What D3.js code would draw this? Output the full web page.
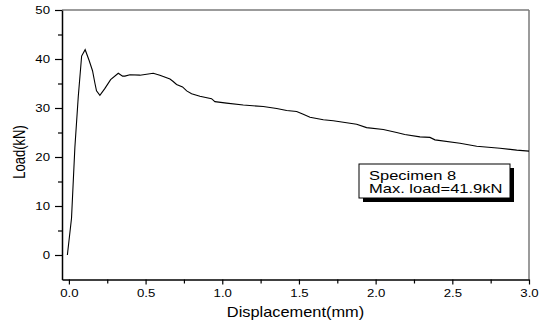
<!DOCTYPE html>
<html>
<head>
<meta charset="utf-8">
<script src="https://cdn.jsdelivr.net/npm/d3@7"></script>
<style>
  body { margin: 0; background: #fff; }
  text { font-family: "Liberation Sans", Arial, sans-serif; fill: #000; }
</style>
</head>
<body>
<div id="chart"></div>
<script>
// load-displacement record, specimen 8
var disp = [-0.01, 0.017, 0.039, 0.061, 0.083, 0.106, 0.132, 0.154, 0.17, 0.18,
  0.202, 0.235, 0.272, 0.322, 0.35, 0.365, 0.398, 0.463, 0.55, 0.593,
  0.659, 0.68, 0.702, 0.741, 0.768, 0.80, 0.854, 0.93, 0.952, 1.028,
  1.137, 1.267, 1.355, 1.42, 1.485, 1.528, 1.572, 1.659, 1.724, 1.876,
  1.941, 2.05, 2.137, 2.19, 2.289, 2.354, 2.387, 2.55, 2.659, 2.811,
  2.92, 3.0];
var load = [0, 7.5, 22.0, 32.3, 40.6, 41.9, 39.7, 37.6, 35.0, 33.5,
  32.6, 34.0, 35.8, 37.1, 36.5, 36.5, 36.8, 36.7, 37.1, 36.7,
  35.9, 35.4, 34.8, 34.3, 33.5, 32.9, 32.4, 31.9, 31.3, 31.0,
  30.6, 30.3, 29.9, 29.5, 29.3, 28.7, 28.1, 27.6, 27.4, 26.7,
  26.0, 25.6, 25.0, 24.6, 24.1, 24.0, 23.5, 22.8, 22.2, 21.8,
  21.4, 21.2];

var xTicks = [0, 0.5, 1.0, 1.5, 2.0, 2.5, 3.0];
var xMinor = [0.25, 0.75, 1.25, 1.75, 2.25, 2.75];
var yTicks = [0, 10, 20, 30, 40, 50];
var yMinor = [5, 15, 25, 35, 45];

var legendLines = ["Specimen 8", "Max. load=41.9kN"];

var W = 550, H = 323;
var plotL = 62, plotR = 529, plotT = 10, plotB = 279.5;
var sx = 1.2; // wide lettering

var svg = d3.select("#chart").append("svg")
  .attr("width", W).attr("height", H);

var x = d3.scaleLinear().domain([-0.045, 3.0]).range([plotL, plotR]);
var y = d3.scaleLinear().domain([-5, 50]).range([plotB, plotT]);

// grey frame on top and right
svg.append("line").attr("x1", plotL).attr("x2", plotR).attr("y1", plotT).attr("y2", plotT)
  .attr("stroke", "#7a7a7a").attr("stroke-width", 1.5);
svg.append("line").attr("x1", plotR).attr("x2", plotR).attr("y1", plotT).attr("y2", plotB)
  .attr("stroke", "#7a7a7a").attr("stroke-width", 1.5);

// minor ticks
svg.append("g").attr("transform", "translate(0," + plotB + ")")
  .call(d3.axisBottom(x).tickValues(xMinor).tickSize(4).tickFormat(""))
  .call(g => g.select(".domain").remove());
svg.append("g").attr("transform", "translate(" + plotL + ",0)")
  .call(d3.axisLeft(y).tickValues(yMinor).tickSize(4).tickFormat(""))
  .call(g => g.select(".domain").remove());

// main axes
var gx = svg.append("g").attr("transform", "translate(0," + plotB + ")")
  .call(d3.axisBottom(x).tickValues(xTicks).tickSize(5).tickSizeOuter(0)
    .tickFormat(d3.format(".1f")));
gx.selectAll("text")
  .attr("font-size", 11)
  .attr("y", 0).attr("dy", 0)
  .attr("transform", "translate(0,17) scale(" + sx + ",1)");

var gy = svg.append("g").attr("transform", "translate(" + plotL + ",0)")
  .call(d3.axisLeft(y).tickValues(yTicks).tickSize(7).tickSizeOuter(0)
    .tickFormat(d3.format("d")));
gy.selectAll("text")
  .attr("font-size", 11)
  .attr("x", 0).attr("dy", "0.36em")
  .attr("transform", "translate(-12,0) scale(" + sx + ",1)");

svg.selectAll(".domain").attr("stroke", "#000").attr("stroke-width", 1.5);
svg.selectAll(".tick line").attr("stroke", "#000").attr("stroke-width", 1.2);

// axis titles
svg.append("text")
  .attr("text-anchor", "middle")
  .attr("font-size", 14)
  .attr("transform", "translate(" + ((plotL + plotR) / 2) + ",317) scale(1.17,1)")
  .text("Displacement(mm)");

svg.append("text")
  .attr("text-anchor", "middle")
  .attr("font-size", 13)
  .attr("transform", "translate(25,152) rotate(-90) scale(1,1.27)")
  .text("Load(kN)");

// curve
var pts = disp.map((d, i) => [d, load[i]]);
var line = d3.line().x(d => x(d[0])).y(d => y(d[1]));
svg.append("path")
  .datum(pts)
  .attr("d", line)
  .attr("fill", "none")
  .attr("stroke", "#000")
  .attr("stroke-width", 1.1);

// note box with drop shadow
var bx = 359, by = 164, bw = 151, bh = 34;
svg.append("rect").attr("x", bx + 4).attr("y", by + 4).attr("width", bw).attr("height", bh)
  .attr("fill", "#000");
svg.append("rect").attr("x", bx).attr("y", by).attr("width", bw).attr("height", bh)
  .attr("fill", "#fff").attr("stroke", "#000").attr("stroke-width", 1);

svg.selectAll(".note").data(legendLines).enter().append("text")
  .attr("class", "note")
  .attr("font-size", 13)
  .attr("transform", (d, i) => "translate(369," + (180 + i * 13) + ") scale(1.27,1)")
  .text(d => d);
</script>
</body>
</html>
